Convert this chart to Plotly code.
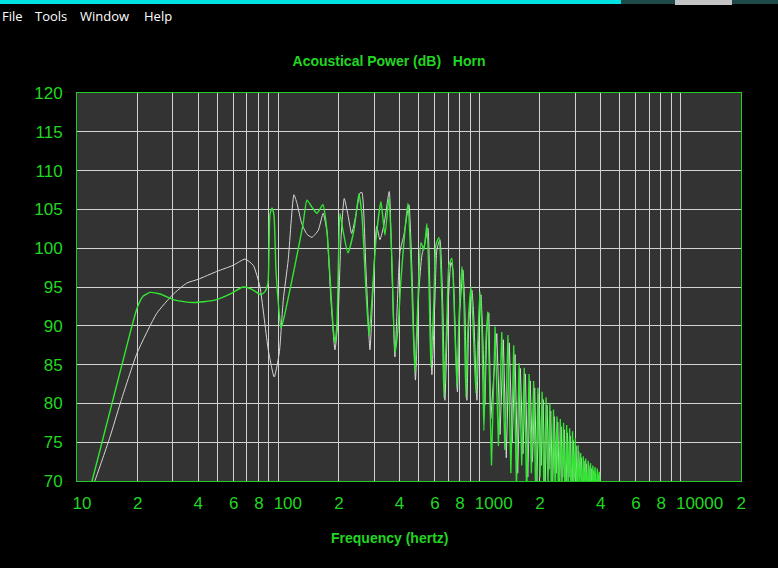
import plotly.graph_objects as go

# ---------------- data ----------------
green_freq = [11.4, 18.55, 19.9, 21.3, 23.1, 25.9, 30.7, 37.7, 48.5, 58.9, 66.8, 74.1, 82.1, 86.0, 89.0,
              91.0, 93.2, 95.3, 97.5, 100.9, 103.3, 105.7, 121.2, 132.8, 139.0, 147.2, 155.9, 167.0, 174.8,
              180.9, 187.3, 191.6, 196.0, 202.9, 210.0, 222.3, 238.1, 252.1, 260.9, 273.2, 282.7, 292.6,
              306.4, 324.3, 339.5, 355.4, 367.8, 380.7, 393.9, 407.7, 426.8, 441.8, 457.1, 478.6, 495.3,
              512.6, 530.5, 549.0, 561.7, 574.6, 594.8, 608.4, 629.8, 651.8, 666.8, 690.2, 706.2, 730.9,
              747.8, 774.0, 791.9, 819.6, 838.6, 858.0, 877.8, 908.6, 929.6, 962.2, 984.4, 1007, 1030,
              1054, 1079, 1103]
green_db = [68.2, 89.5, 92.3, 93.8, 94.3, 94.1, 93.3, 93.0, 93.3, 94.2, 95.0, 94.7, 94.0, 94.4, 95.5,
            104.3, 105.2, 104.3, 97.2, 92.0, 89.7, 90.5, 97.8, 103.0, 106.2, 105.3, 104.5, 105.6, 102.3,
            96.5, 90.1, 87.8, 90.1, 104.5, 102.3, 99.4, 102.3, 107.0, 104.3, 94.6, 88.7, 93.3,
            101.1, 106.0, 101.7, 106.5, 98.5, 86.5, 89.5, 95.9, 102.3, 105.8, 98.5, 84.0, 93.3,
            100.7, 99.8, 103.2, 95.9, 84.7, 93.3, 100.4, 101.4, 93.3, 80.8, 90.7, 97.8, 98.7,
            93.3, 82.1, 90.7, 97.6, 93.3, 80.8, 89.5, 95.0, 90.7, 81.3, 88.2, 94.4, 89.5,
            76.5, 88.2, 91.8]

green_hf_freq = [1103, 1150, 1198, 1245, 1293, 1340, 1388, 1435, 1483, 1530, 1578,
                 1625, 1673, 1720, 1768, 1815, 1863, 1910, 1958, 2005, 2053,
                 2100, 2148, 2195, 2243, 2290, 2338, 2385, 2433, 2480, 2528,
                 2575, 2623, 2670, 2718, 2765, 2813, 2860, 2908, 2955, 3003,
                 3050, 3098, 3145, 3193, 3240, 3288, 3335, 3383, 3430, 3478,
                 3525, 3573, 3620, 3668, 3715, 3763, 3810, 3858, 3905, 3953, 4050]
green_hf_db = [91.8, 72.0, 89.9, 74.5, 89.2, 74.0, 88.8, 71.0, 87.5, 69.0, 85.2,
               72.0, 84.6, 68.0, 83.8, 71.0, 82.9, 67.0, 82.0, 70.5, 81.5,
               67.0, 80.8, 69.5, 80.0, 66.0, 79.2, 68.5, 78.3, 66.0, 78.0,
               69.0, 77.5, 66.0, 77.2, 68.5, 76.8, 66.0, 76.4, 69.0, 75.5,
               66.0, 74.6, 69.0, 73.6, 66.0, 73.2, 69.0, 72.9, 66.0, 72.6,
               69.5, 72.3, 66.0, 72.0, 69.5, 71.8, 66.0, 71.6, 69.5, 71.2, 66.0]

white_freq = [11.3, 12.3, 14.6, 16.4, 19.9, 24.9, 29.9, 35.1, 40.1, 49.5, 59.8, 68.4, 75.2, 81.2, 89.3,
              95.6, 101.3, 106.0, 112.2, 119.8, 124.0, 130.9, 139.0, 147.2, 158.2, 167.5, 174.8, 183.0,
              191.6, 198.3, 205.2, 213.1, 222.3, 231.9, 243.6, 255.0, 260.9, 273.2, 286.0, 296.0, 308.9,
              320.6, 335.7, 356.7, 367.8, 380.7, 403.1, 421.9, 446.8, 462.4, 481.3, 501.0, 518.5, 536.6,
              555.3, 568.2, 581.2, 601.5, 615.4, 637.0, 659.3, 674.5, 698.1, 722.5, 739.2, 756.4, 778.4,
              800.9, 828.9, 848.2, 867.8, 887.9, 919.0, 940.2, 973.0, 995.5, 1018.6, 1042, 1066, 1091, 1116]
white_db = [67.6, 70.1, 75.7, 80.0, 86.5, 91.6, 94.0, 95.5, 96.0, 97.0, 97.8, 98.6, 97.8, 95.0, 86.9,
            83.4, 86.5, 93.3, 98.5, 106.9, 105.8, 103.2, 101.8, 101.4, 102.3, 104.5, 102.1, 93.3,
            86.9, 90.7, 101.1, 106.4, 104.3, 101.9, 104.3, 107.1, 107.2, 97.2, 86.9, 94.6, 102.8,
            101.1, 103.0, 107.3, 97.2, 86.0, 99.5, 101.7, 105.6, 97.2, 83.0, 94.6, 99.1, 100.7,
            102.6, 94.6, 83.7, 93.3, 99.8, 101.1, 92.0, 80.4, 92.0, 98.2, 97.2, 90.7, 81.5,
            92.0, 97.2, 92.0, 80.4, 90.7, 94.6, 90.7, 80.4, 89.5, 94.0, 88.2, 79.8, 89.5, 91.6]

white_hf_freq = [1116, 1140, 1222, 1268, 1317, 1362, 1410, 1458, 1505, 1552, 1600,
                 1648, 1695, 1742, 1790, 1838, 1885, 1932, 1980, 2028, 2075,
                 2122, 2170, 2218, 2265, 2312, 2360, 2408, 2455, 2502, 2550,
                 2598, 2645, 2692, 2740, 2788, 2835, 2882, 2930, 2978, 3025,
                 3072, 3120, 3168, 3215, 3262, 3310, 3358, 3405, 3452, 3500,
                 3548, 3595, 3642, 3690, 3738, 3785, 3832, 3880, 3930, 3975, 4060]
white_hf_db = [91.6, 78.0, 89.0, 76.0, 88.2, 73.0, 87.8, 75.0, 86.3, 71.0, 84.5,
               73.5, 83.8, 70.5, 82.9, 72.5, 82.0, 69.5, 81.2, 72.0, 80.5,
               69.0, 79.8, 71.5, 79.0, 68.5, 78.3, 71.0, 77.6, 68.0, 77.0,
               70.5, 76.6, 68.0, 76.2, 70.5, 75.8, 68.0, 75.2, 70.5, 74.5,
               68.0, 73.8, 70.5, 73.0, 68.0, 72.6, 70.2, 72.2, 68.0, 71.9,
               70.0, 71.6, 68.0, 71.3, 69.5, 71.0, 68.0, 70.8, 68.5, 70.6, 67.0]

x_tick_vals = [10, 20, 40, 60, 80, 100, 200, 400, 600, 800, 1000, 2000, 4000, 6000, 8000, 10000, 20000]
x_tick_text = ["10", "2", "4", "6", "8", "100", "2", "4", "6", "8", "1000", "2", "4", "6", "8", "10000", "2"]
x_grid_vals = [m * d for d in (10, 100, 1000) for m in range(1, 10)] + [10000, 20000]
y_tick_vals = [70, 75, 80, 85, 90, 95, 100, 105, 110, 115, 120]

title_text = "Acoustical Power (dB)\u00a0\u00a0\u00a0Horn"
x_title_text = "Frequency (hertz)"
menu_items = ["File", "Tools", "Window", "Help"]

# ---------------- figure ----------------
W, H = 778, 568
L, R, T, B = 77, 37, 93, 87
PW, PH = W - L - R, H - T - B

def px(xp):
    return (xp - L) / PW

def py(yp):
    return (H - B - yp) / PH

GREEN_TXT = "#22D622"
GREEN_LINE = "#33E633"
GRID = "#D2D2D2"
FONT = "Liberation Sans, Arial, sans-serif"

assert len(green_freq) == len(green_db)
assert len(green_hf_freq) == len(green_hf_db)
assert len(white_freq) == len(white_db)
assert len(white_hf_freq) == len(white_hf_db)

fig = go.Figure()
fig.add_trace(go.Scatter(x=white_freq, y=white_db, mode="lines",
                         line=dict(color="#D6D6D6", width=1, shape="spline", smoothing=0.5),
                         hoverinfo="skip"))
fig.add_trace(go.Scatter(x=white_hf_freq, y=white_hf_db, mode="lines",
                         line=dict(color="#D6D6D6", width=1), hoverinfo="skip"))
fig.add_trace(go.Scatter(x=green_freq, y=green_db, mode="lines",
                         line=dict(color=GREEN_LINE, width=1.4, shape="spline", smoothing=0.5),
                         hoverinfo="skip"))
fig.add_trace(go.Scatter(x=green_hf_freq, y=green_hf_db, mode="lines",
                         line=dict(color=GREEN_LINE, width=1.3), hoverinfo="skip"))

fig.update_layout(
    width=W, height=H,
    margin=dict(l=L, r=R, t=T, b=B, pad=0),
    paper_bgcolor="#000000",
    plot_bgcolor="#333333",
    showlegend=False,
    title=dict(text=title_text, xref="container", x=0.5, xanchor="center",
               yref="container", y=1 - 61 / H, yanchor="middle",
               font=dict(family=FONT, size=14, color=GREEN_TXT, weight="bold")),
)

fig.update_xaxes(
    type="log", range=[1, 4.30103],
    tickmode="array", tickvals=x_tick_vals, ticktext=x_tick_text, tickangle=0,
    showgrid=True, gridcolor=GRID, gridwidth=1.4,
    minor=dict(tickmode="array", tickvals=x_grid_vals, showgrid=True, gridcolor=GRID, gridwidth=1.4,
               ticks=""),
    ticks="", ticklabelposition="outside right", ticklabelshift=-5, ticklabelstandoff=7,
    tickfont=dict(family=FONT, size=17, color=GREEN_TXT),
    showline=True, linecolor="#22CC22", linewidth=1, mirror=True,
    zeroline=False, fixedrange=True,
)
fig.update_yaxes(
    range=[70, 120], tickmode="array", tickvals=y_tick_vals,
    showgrid=True, gridcolor=GRID, gridwidth=1.4,
    ticks="", ticklabelstandoff=10,
    tickfont=dict(family=FONT, size=17, color=GREEN_TXT),
    showline=True, linecolor="#22CC22", linewidth=1, mirror=True,
    zeroline=False, fixedrange=True,
)

# x-axis title
fig.add_annotation(text=x_title_text, xref="paper", yref="paper", x=px(389), y=py(538),
                   xanchor="center", yanchor="middle", showarrow=False,
                   font=dict(family=FONT, size=14, color=GREEN_TXT, weight="bold"))

# window chrome: cyan top bar, buttons, menu
fig.add_shape(type="rect", xref="paper", yref="paper", x0=px(-5), x1=px(785), y0=py(4), y1=py(-5),
              fillcolor="#00E2E2", line=dict(width=0), layer="above")
for x0, x1, col, h in [(621, 675, "#1F4A4A", 4), (675, 732, "#C4C4C4", 5), (732, 785, "#1F4A4A", 4)]:
    fig.add_shape(type="rect", xref="paper", yref="paper", x0=px(x0), x1=px(x1), y0=py(h), y1=py(-5),
                  fillcolor=col, line=dict(width=0), layer="above")

for name, xl in zip(menu_items, [0, 33, 78, 142]):
    fig.add_annotation(text=name, xref="paper", yref="paper", x=px(xl), y=py(16),
                       xanchor="left", yanchor="middle", showarrow=False,
                       font=dict(family="Open Sans, Noto Sans, sans-serif", size=13, color="#FFFFFF"))

fig.write_html("out.html", config={"displayModeBar": False},
               post_script="document.body.style.margin='0px';document.body.style.background='#000';")
